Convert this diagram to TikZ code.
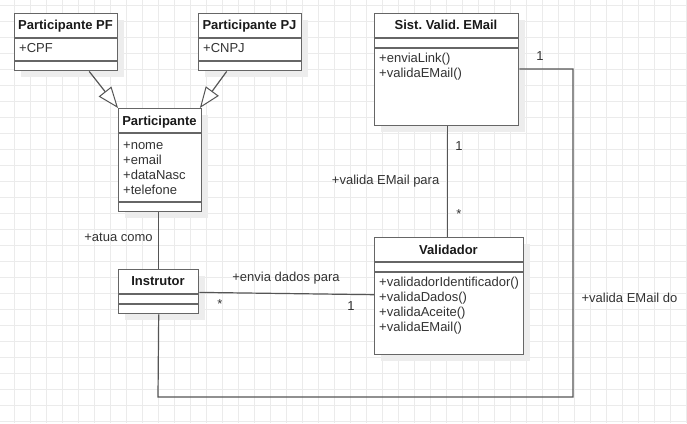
\documentclass[tikz,border=0pt]{standalone}
\usepackage{fontspec}
\setmainfont{Liberation Sans}
\usetikzlibrary{arrows.meta,calc,shadows}
\definecolor{gridc}{HTML}{EBEBEB}
\definecolor{bordc}{HTML}{666666}
\definecolor{linec}{HTML}{555555}
\definecolor{titlec}{HTML}{1A1A1A}
\definecolor{textc}{HTML}{333333}
\frenchspacing
\tikzset{
  umlbox/.style={draw=bordc, line width=1.4pt, fill=white, inner sep=0pt, anchor=north west,
    drop shadow={shadow xshift=6pt, shadow yshift=-6pt, fill=black!7, opacity=1}},
  sepline/.style={draw=bordc, line width=1.4pt},
  ttl/.style={inner sep=0pt, anchor=base, font=\fontsize{13}{15}\selectfont\bfseries, text=titlec},
  attr/.style={inner sep=0pt, anchor=base west, font=\fontsize{13}{15}\selectfont, text=textc},
  lbl/.style={inner sep=0pt, anchor=base, font=\fontsize{13}{15}\selectfont, text=textc},
  conn/.style={draw=linec, line width=1.2pt},
  gen/.style={conn, -{Triangle[length=21pt,width=16pt,fill=white,line width=1pt]}},
}
\begin{document}
\begin{tikzpicture}[x=1pt,y=-1pt]
\fill[white] (0,0) rectangle (687,423);
\useasboundingbox (0,0) rectangle (687,423);
% grid
\foreach \gx in {14.7,30.7,...,686.7} \draw[gridc, line width=0.9pt] (\gx,0) -- (\gx,423);
\foreach \gy in {5.5,21.5,...,421.5} \draw[gridc, line width=0.9pt] (0,\gy) -- (687,\gy);

% boxes
\node[umlbox, minimum width=103pt, minimum height=57pt] (pf) at (14,13) {};
\node[umlbox, minimum width=103pt, minimum height=57pt] (pj) at (198,13) {};
\node[umlbox, minimum width=83pt, minimum height=103pt] (par) at (118,108) {};
\node[umlbox, minimum width=144pt, minimum height=112pt] (sist) at (374,13) {};
\node[umlbox, minimum width=149pt, minimum height=117pt] (val) at (374,237) {};
\node[umlbox, minimum width=80pt, minimum height=44pt] (ins) at (118,269) {};

% separators
\draw[sepline] (14,38) -- (117,38) (14,61) -- (117,61);
\draw[sepline] (198,38) -- (301,38) (198,61) -- (301,61);
\draw[sepline] (118,133) -- (201,133) (118,202) -- (201,202);
\draw[sepline] (374,38) -- (518,38) (374,48) -- (518,48);
\draw[sepline] (374,262) -- (523,262) (374,272) -- (523,272);
\draw[sepline] (118,294) -- (198,294) (118,304) -- (198,304);

% texts
\node[ttl] (pft) at (65.5,29.7) {Participante PF};
\node[attr] (pfa) at (19,52.5) {+CPF};
\node[ttl] (pjt) at (249.5,29.7) {Participante PJ};
\node[attr] (pja) at (203,52.5) {+CNPJ};
\node[ttl] (part) at (159.5,125.7) {Participante};
\node[attr] (para1) at (123,149) {+nome};
\node[attr] (para2) at (123,164) {+email};
\node[attr] (para3) at (123,179) {+dataNasc};
\node[attr] (para4) at (123,194) {+telefone};
\node[ttl] (sistt) at (446,29.7) {Sist. Valid. EMail};
\node[attr] (sistm1) at (379,62.7) {+enviaLink()};
\node[attr] (sistm2) at (379,77.5) {+validaEMail()};
\node[ttl] (valt) at (448.5,254) {Validador};
\node[attr] (valm1) at (379,286.7) {+validadorIdentificador()};
\node[attr] (valm2) at (379,301.7) {+validaDados()};
\node[attr] (valm3) at (379,316.7) {+validaAceite()};
\node[attr] (valm4) at (379,331.7) {+validaEMail()};
\node[ttl] (inst) at (158,285.7) {Instrutor};

% connectors
\draw[gen] ($(pf.south)+(23,0)$) -- (par.north west);
\draw[gen] ($(pj.south)+(-23.5,0)$) -- ($(par.north east)+(-2.5,0)$);
\draw[conn] ($(par.south)+(-1.5,0)$) -- ($(ins.north)+(0,0)$);
\draw[conn] ($(ins.east)+(0,0.7)$) -- ($(val.west)+(0,-1.5)$);
\draw[conn] ($(sist.south)+(1,0)$) -- ($(val.north)+(-1.5,0)$);
\coordinate (c1) at (573,69);
\coordinate (c2) at (573,397);
\coordinate (c3) at (158,397);
\draw[conn] (sist.east |- c1) -- (c1) -- (c2) -- (c3) -- (ins.south);

% labels
\node[lbl] (l1) at (118.5,241.7) {+atua como};
\node[lbl] (l2) at (286,281.7) {+envia dados para};
\node[lbl] (l3) at (220,308) {*};
\node[lbl] (l4) at (351,310) {1};
\node[lbl] (l5) at (459,150.7) {1};
\node[lbl] (l6) at (459,218) {*};
\node[lbl, anchor=base east] (l7) at (439.5,184) {+valida EMail para};
\node[lbl] (l8) at (540,60) {1};
\node[lbl] (l9) at (629.5,302.7) {+valida EMail do};
\end{tikzpicture}
\end{document}
